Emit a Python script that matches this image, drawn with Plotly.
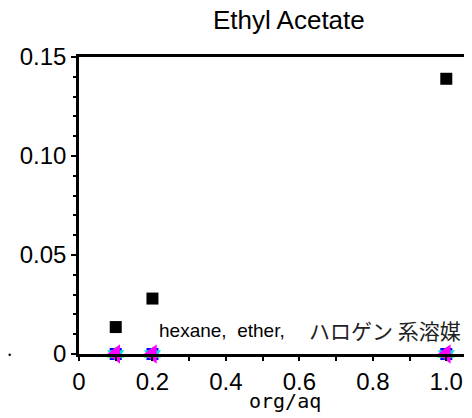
import plotly.graph_objects as go

# Data
org_aq = [0.1, 0.2, 1.0]
ethyl_acetate = [0.0136, 0.028, 0.139]
hexane = [0, 0, 0]
ether = [0, 0, 0]
halogen_a = [0, 0, 0]
halogen_b = [0, 0, 0]

x_tickvals = [0, 0.2, 0.4, 0.6, 0.8, 1.0]
x_ticktext = ["0", "0.2", "0.4", "0.6", "0.8", "1.0"]
y_tickvals = [0, 0.05, 0.10, 0.15]
y_ticktext = ["0", "0.05", "0.10", "0.15"]

fig = go.Figure()
fig.add_trace(go.Scatter(x=org_aq, y=ethyl_acetate, mode="markers",
                         marker=dict(symbol="square", size=12, color="black"),
                         cliponaxis=False, showlegend=False))
fig.add_trace(go.Scatter(x=org_aq, y=hexane, mode="markers",
                         marker=dict(symbol="square", size=12, color="#0000ff"),
                         cliponaxis=False, showlegend=False))
fig.add_trace(go.Scatter(x=org_aq, y=ether, mode="markers",
                         marker=dict(symbol="triangle-up", size=15, color="#33ee55"),
                         cliponaxis=False, showlegend=False))
fig.add_trace(go.Scatter(x=org_aq, y=halogen_a, mode="markers",
                         marker=dict(symbol="triangle-down", size=15, color="#00e5e5"),
                         cliponaxis=False, showlegend=False))
fig.add_trace(go.Scatter(x=org_aq, y=halogen_b, mode="markers",
                         marker=dict(symbol="triangle-left", size=17, color="#ff00ff"),
                         cliponaxis=False, showlegend=False))

fig.update_layout(
    width=472, height=418,
    margin=dict(l=71, r=8, t=49, b=72),
    paper_bgcolor="white", plot_bgcolor="white",
    xaxis=dict(range=[0, 1.07], tickvals=x_tickvals, ticktext=x_ticktext, automargin=False,
               showgrid=False, zeroline=False, showline=True, linecolor="black", linewidth=2.5,
               mirror=True, ticks="outside", ticklen=4, tickwidth=2, tickcolor="black",
               minor=dict(dtick=0.1, tick0=0, ticks="outside", ticklen=4, tickwidth=2, tickcolor="black"),
               tickfont=dict(family="Liberation Sans, Arial", size=24, color="black")),
    yaxis=dict(range=[0, 0.15], tickvals=y_tickvals, ticktext=y_ticktext, automargin=False,
               showgrid=False, zeroline=False, showline=True, linecolor="black", linewidth=2.5,
               ticks="outside", ticklen=5, tickwidth=2, tickcolor="black",
               minor=dict(dtick=0.01, tick0=0, ticks="outside", ticklen=3, tickwidth=2, tickcolor="black"),
               tickfont=dict(family="Liberation Sans, Arial", size=24, color="black")),
    annotations=[
        dict(text="Ethyl Acetate", xref="paper", yref="paper", x=0.534, y=1.1246,
             xanchor="center", yanchor="middle", showarrow=False,
             font=dict(family="Liberation Sans, Arial", size=26, color="black")),
        dict(text="org/aq", xref="paper", yref="paper", x=0.523, y=-0.158,
             xanchor="center", yanchor="middle", showarrow=False,
             font=dict(family="DejaVu Sans Mono, monospace", size=20, color="black")),
        dict(text="hexane,\u00a0 ether,", xref="paper", yref="paper",
             x=0.198, y=0.08, xanchor="left", yanchor="middle", showarrow=False,
             font=dict(family="Liberation Sans, Arial", size=19, color="black")),
        dict(text="ハロゲン 系溶媒", xref="paper", yref="paper",
             x=0.978, y=0.08, xanchor="right", yanchor="middle", showarrow=False,
             font=dict(family="Noto Sans CJK JP", size=21, color="#222222")),
        dict(text="·", xref="paper", yref="paper", x=-0.178, y=0.0, xanchor="center", yanchor="middle",
             showarrow=False, font=dict(size=20, color="black")),
    ],
)

fig.write_html("out.html")
